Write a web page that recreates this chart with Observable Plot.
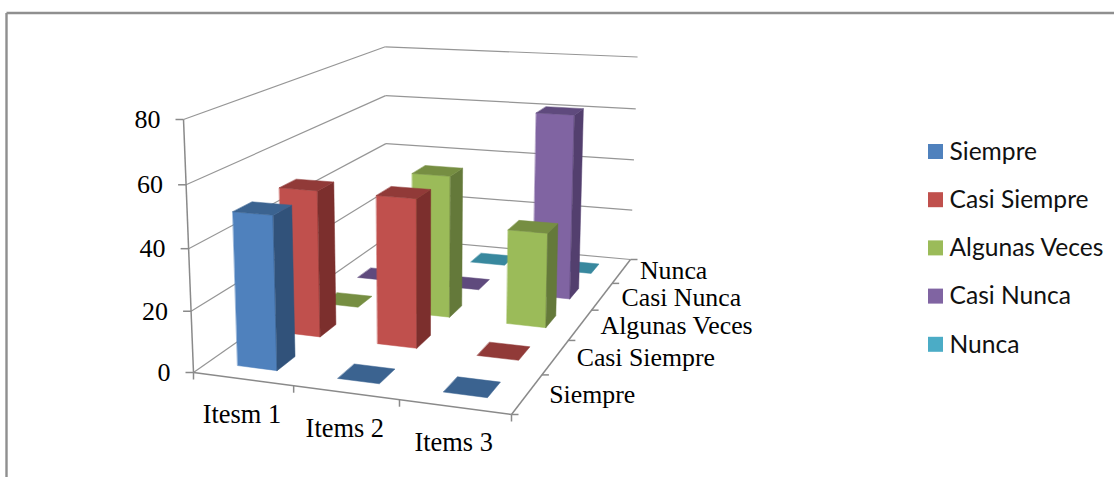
<!DOCTYPE html>
<html><head><meta charset="utf-8">
<style>html,body{margin:0;padding:0;background:#fff;overflow:hidden}svg{display:block}</style>
<script src="https://cdn.jsdelivr.net/npm/d3@7"></script>
<script src="https://cdn.jsdelivr.net/npm/@observablehq/plot@0.6"></script>
</head><body><div id="chart"></div>
<script>
const items = ["Itesm 1", "Items 2", "Items 3"];
const series = ["Siempre", "Casi Siempre", "Algunas Veces", "Casi Nunca", "Nunca"];
const siempre = [50, 0, 0];
const casiSiempre = [50, 50, 0];
const algunasVeces = [0, 50, 33];
const casiNunca = [0, 0, 67];
const nunca = [0, 0, 0];
const yTicks = [0, 20, 40, 60, 80];
const values = [siempre, casiSiempre, algunasVeces, casiNunca, nunca];

const frontColors = ["#4F81BD", "#C0504D", "#9BBB59", "#8064A2", "#4BACC6"];
const sideColors = ["#31527A", "#7C2F2D", "#64793A", "#533F6E", "#30707F"];
const topColors = ["#3B6390", "#913A38", "#768E42", "#5F4A7D", "#38889E"];

// Camera: floor quad + vertical vanishing point
const floorQuad = [[193, 372], [511, 414], [630, 259], [386, 237]];
const vp = [423, 6200], yMax = 80, topLeftY = 119;
function homography([p0, p1, p2, p3]) {
  const dx1 = p1[0] - p2[0], dx2 = p3[0] - p2[0], sx = p0[0] - p1[0] + p2[0] - p3[0];
  const dy1 = p1[1] - p2[1], dy2 = p3[1] - p2[1], sy = p0[1] - p1[1] + p2[1] - p3[1];
  const den = dx1 * dy2 - dx2 * dy1;
  const g = (sx * dy2 - dx2 * sy) / den, h = (dx1 * sy - sx * dy1) / den;
  return (u, v) => {
    const W = g * u + h * v + 1;
    return [(p1[0] - p0[0] + g * p1[0]) * u + (p3[0] - p0[0] + h * p3[0]) * v + p0[0],
            (p1[1] - p0[1] + g * p1[1]) * u + (p3[1] - p0[1] + h * p3[1]) * v + p0[1], W];
  };
}
const floor = homography(floorQuad);
const k = (floorQuad[0][1] - topLeftY) / (vp[1] - topLeftY) / yMax; // per unit of value, floor W at origin = 1
function P(u, v, h) {
  const [X, Y, W] = floor(u, v);
  const t = -h * k;
  const w = W + t;
  return [(X + t * vp[0]) / w, (Y + t * vp[1]) / w];
}

// Faces of the 3D bars, painter's order: back row first, left to right
const U = items.length, V = series.length, bw = 0.4, faces = [];
for (let s = V - 1; s >= 0; s--) for (let i = 0; i < U; i++) {
  const val = values[s][i];
  const u0 = (i + .5 - bw / 2) / U, u1 = (i + .5 + bw / 2) / U;
  const v0 = (s + .5 - bw / 2) / V, v1 = (s + .5 + bw / 2) / V;
  const add = (color, pts) => faces.push({color, pts: pts.map(p => P(...p))});
  if (val > 0) {
    add(frontColors[s], [[u0, v0, 0], [u1, v0, 0], [u1, v0, val], [u0, v0, val]]);
    add(sideColors[s], [[u1, v0, 0], [u1, v1, 0], [u1, v1, val], [u1, v0, val]]);
  }
  add(topColors[s], [[u0, v0, val], [u1, v0, val], [u1, v1, val], [u0, v1, val]]);
}
const faceRows = faces.flatMap((f, id) => f.pts.map(([x, y]) => ({id, x, y, color: f.color})));

const seg = (a, b, dx = 0, dy = 0, dx2 = dx, dy2 = dy) => {
  const p = P(...a), q = P(...b);
  return {x1: p[0] + dx, y1: p[1] + dy, x2: q[0] + dx2, y2: q[1] + dy2};
};
const gridLines = yTicks.filter(d => d > 0).flatMap(h => [seg([0, 0, h], [0, 1, h]), seg([0, 1, h], [1, 1, h])]);
const floorLines = [seg([0, 0, 0], [0, 1, 0]), seg([0, 1, 0], [1, 1, 0])];
const axisLines = [seg([0, 0, 0], [0, 0, yMax]), seg([0, 0, 0], [1, 0, 0]), seg([1, 0, 0], [1, 1, 0])];
const tickLines = [
  ...yTicks.map(h => seg([0, 0, h], [0, 0, h], 0, 0, -8, 0)),
  ...d3.range(U + 1).map(i => seg([i / U, 0, 0], [i / U, 0, 0], 0, 0, 0, 7)),
  ...d3.range(V + 1).map(j => seg([1, j / V, 0], [1, j / V, 0], 0, 0, 7, 0))
];
const yLabels = yTicks.map(h => { const [x, y] = P(0, 0, h); return {x: x - 23, y, t: String(h)}; });
const xLabels = items.map((t, i) => { const [x, y] = P((i + .5) / U, 0, 0); return {x: x - 1, y: y + 36, t}; });
const vLabels = series.map((t, j) => { const [x, y] = P(1, (j + .5) / V, 0); return {x: x + 22 - j * .9, y: y + (j === 4 ? 0 : 1), t}; });
const legend = series.map((t, i) => ({t, color: frontColors[i], y: 144 + i * 48.2}));

const serif = "'Liberation Serif', serif", sans = "Lato, sans-serif";
const linkOpts = {x1: "x1", y1: "y1", x2: "x2", y2: "y2", curve: "linear"};
const plot = Plot.plot({
  width: 1114, height: 477, margin: 0,
  x: {domain: [0, 1114], range: [0, 1114], axis: null},
  y: {domain: [0, 477], range: [0, 477], axis: null},
  color: {type: "identity"},
  style: {background: "#fff"},
  marks: [
    Plot.link([{x1: 6, y1: 477, x2: 6, y2: 12.5}, {x1: 6, y1: 12.5, x2: 1114, y2: 12.5}], {...linkOpts, stroke: "#8f8f8f", strokeWidth: 2.4}),
    Plot.link(gridLines, {...linkOpts, stroke: "#969696", strokeWidth: 1.2}),
    Plot.link(floorLines, {...linkOpts, stroke: "#969696", strokeWidth: 1.2}),
    Plot.link(axisLines, {...linkOpts, stroke: "#8a8a8a", strokeWidth: 1.5}),
    Plot.link(tickLines, {...linkOpts, stroke: "#8a8a8a", strokeWidth: 1.5}),
    Plot.line(faceRows, {x: "x", y: "y", z: "id", fill: "color", stroke: "color", strokeWidth: 0.5, curve: "linear-closed"}),
    Plot.text(yLabels, {x: "x", y: "y", text: "t", textAnchor: "end", fontFamily: serif, fontSize: 26, fill: "#000"}),
    Plot.text(xLabels, {x: "x", y: "y", text: "t", fontFamily: serif, fontSize: 26.4, fill: "#000"}),
    Plot.text(vLabels, {x: "x", y: "y", text: "t", textAnchor: "start", fontFamily: serif, fontSize: 25.8, fill: "#000"}),
    Plot.rect(legend, {x1: 928, x2: 943, y1: "y", y2: d => d.y + 15, fill: "color"}),
    Plot.text(legend, {x: 949, y: d => d.y + 7.5, text: "t", textAnchor: "start", fontFamily: sans, fontSize: 24.6, fill: "#111"})
  ]
});
document.getElementById("chart").append(plot);
</script></body></html>
